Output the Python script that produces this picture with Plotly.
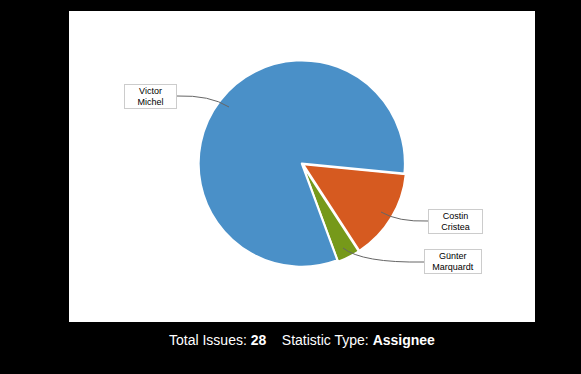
import plotly.graph_objects as go

# ---- data ----
assignees = ["Costin Cristea", "Günter Marquardt", "Victor Michel"]
label_text = ["Costin<br>Cristea", "Günter<br>Marquardt", "Victor<br>Michel"]
issue_counts = [4, 1, 23]
slice_colors = ["#d65a20", "#76991a", "#4a90c8"]
total_issues = sum(issue_counts)
statistic_type = "Assignee"

W, H = 581, 374
L, R, T, B = 69, 46, 11, 52
PW, PH = W - L - R, H - T - B


def fx(x):
    return (x - L) / PW


def fy(y):
    return (H - B - y) / PH


fig = go.Figure()
fig.add_trace(go.Pie(
    labels=assignees,
    values=issue_counts,
    marker=dict(colors=slice_colors, line=dict(color="white", width=2)),
    sort=False,
    direction="clockwise",
    rotation=95.5,
    pull=[0.015, 0.015, 0],
    textinfo="none",
    hoverinfo="label+value+percent",
    showlegend=False,
    domain=dict(x=[0.274, 0.725], y=[0.173, 0.846]),
))

# white plot area
fig.add_shape(type="rect", xref="paper", yref="paper", x0=0, x1=1, y0=0, y1=1,
              fillcolor="white", line=dict(width=0), layer="below")

# connector curves (label -> slice)
connectors = [
    [(381, 212), (398, 222), (428, 221)],
    [(343, 248), (362, 263), (424, 262)],
    [(177, 96), (210, 95), (229, 107)],
]
for (x0, y0), (cx, cy), (x1, y1) in connectors:
    fig.add_shape(type="path", xref="paper", yref="paper",
                  path=f"M {fx(x0)},{fy(y0)} Q {fx(cx)},{fy(cy)} {fx(x1)},{fy(y1)}",
                  line=dict(color="#666666", width=1), layer="above")

label_pos = [(455.5, 221), (453, 261.5), (150.5, 96)]
label_w = [55, 58, 53]
for txt, (x, y), w in zip(label_text, label_pos, label_w):
    fig.add_annotation(x=fx(x), y=fy(y), xref="paper", yref="paper",
                       xanchor="center", yanchor="middle",
                       text=txt, showarrow=False, align="center",
                       width=w - 4, height=21,
                       font=dict(family="Liberation Sans, Arial", size=9, color="black"),
                       bgcolor="white", bordercolor="#cccccc", borderwidth=1, borderpad=1)

fig.add_annotation(x=fx(302), y=fy(340), xref="paper", yref="paper",
                   text=f"Total Issues: <b>{total_issues}</b>&nbsp;&nbsp;&nbsp;&nbsp;Statistic Type: <b>{statistic_type}</b>",
                   showarrow=False, xanchor="center", yanchor="middle",
                   font=dict(family="Liberation Sans, Arial", size=14, color="white"))

fig.update_layout(width=W, height=H, margin=dict(l=L, r=R, t=T, b=B),
                  paper_bgcolor="black", plot_bgcolor="black")
fig.write_html("out.html", config={"displayModeBar": False},
               post_script="document.body.style.margin='0';document.body.style.background='black';")
